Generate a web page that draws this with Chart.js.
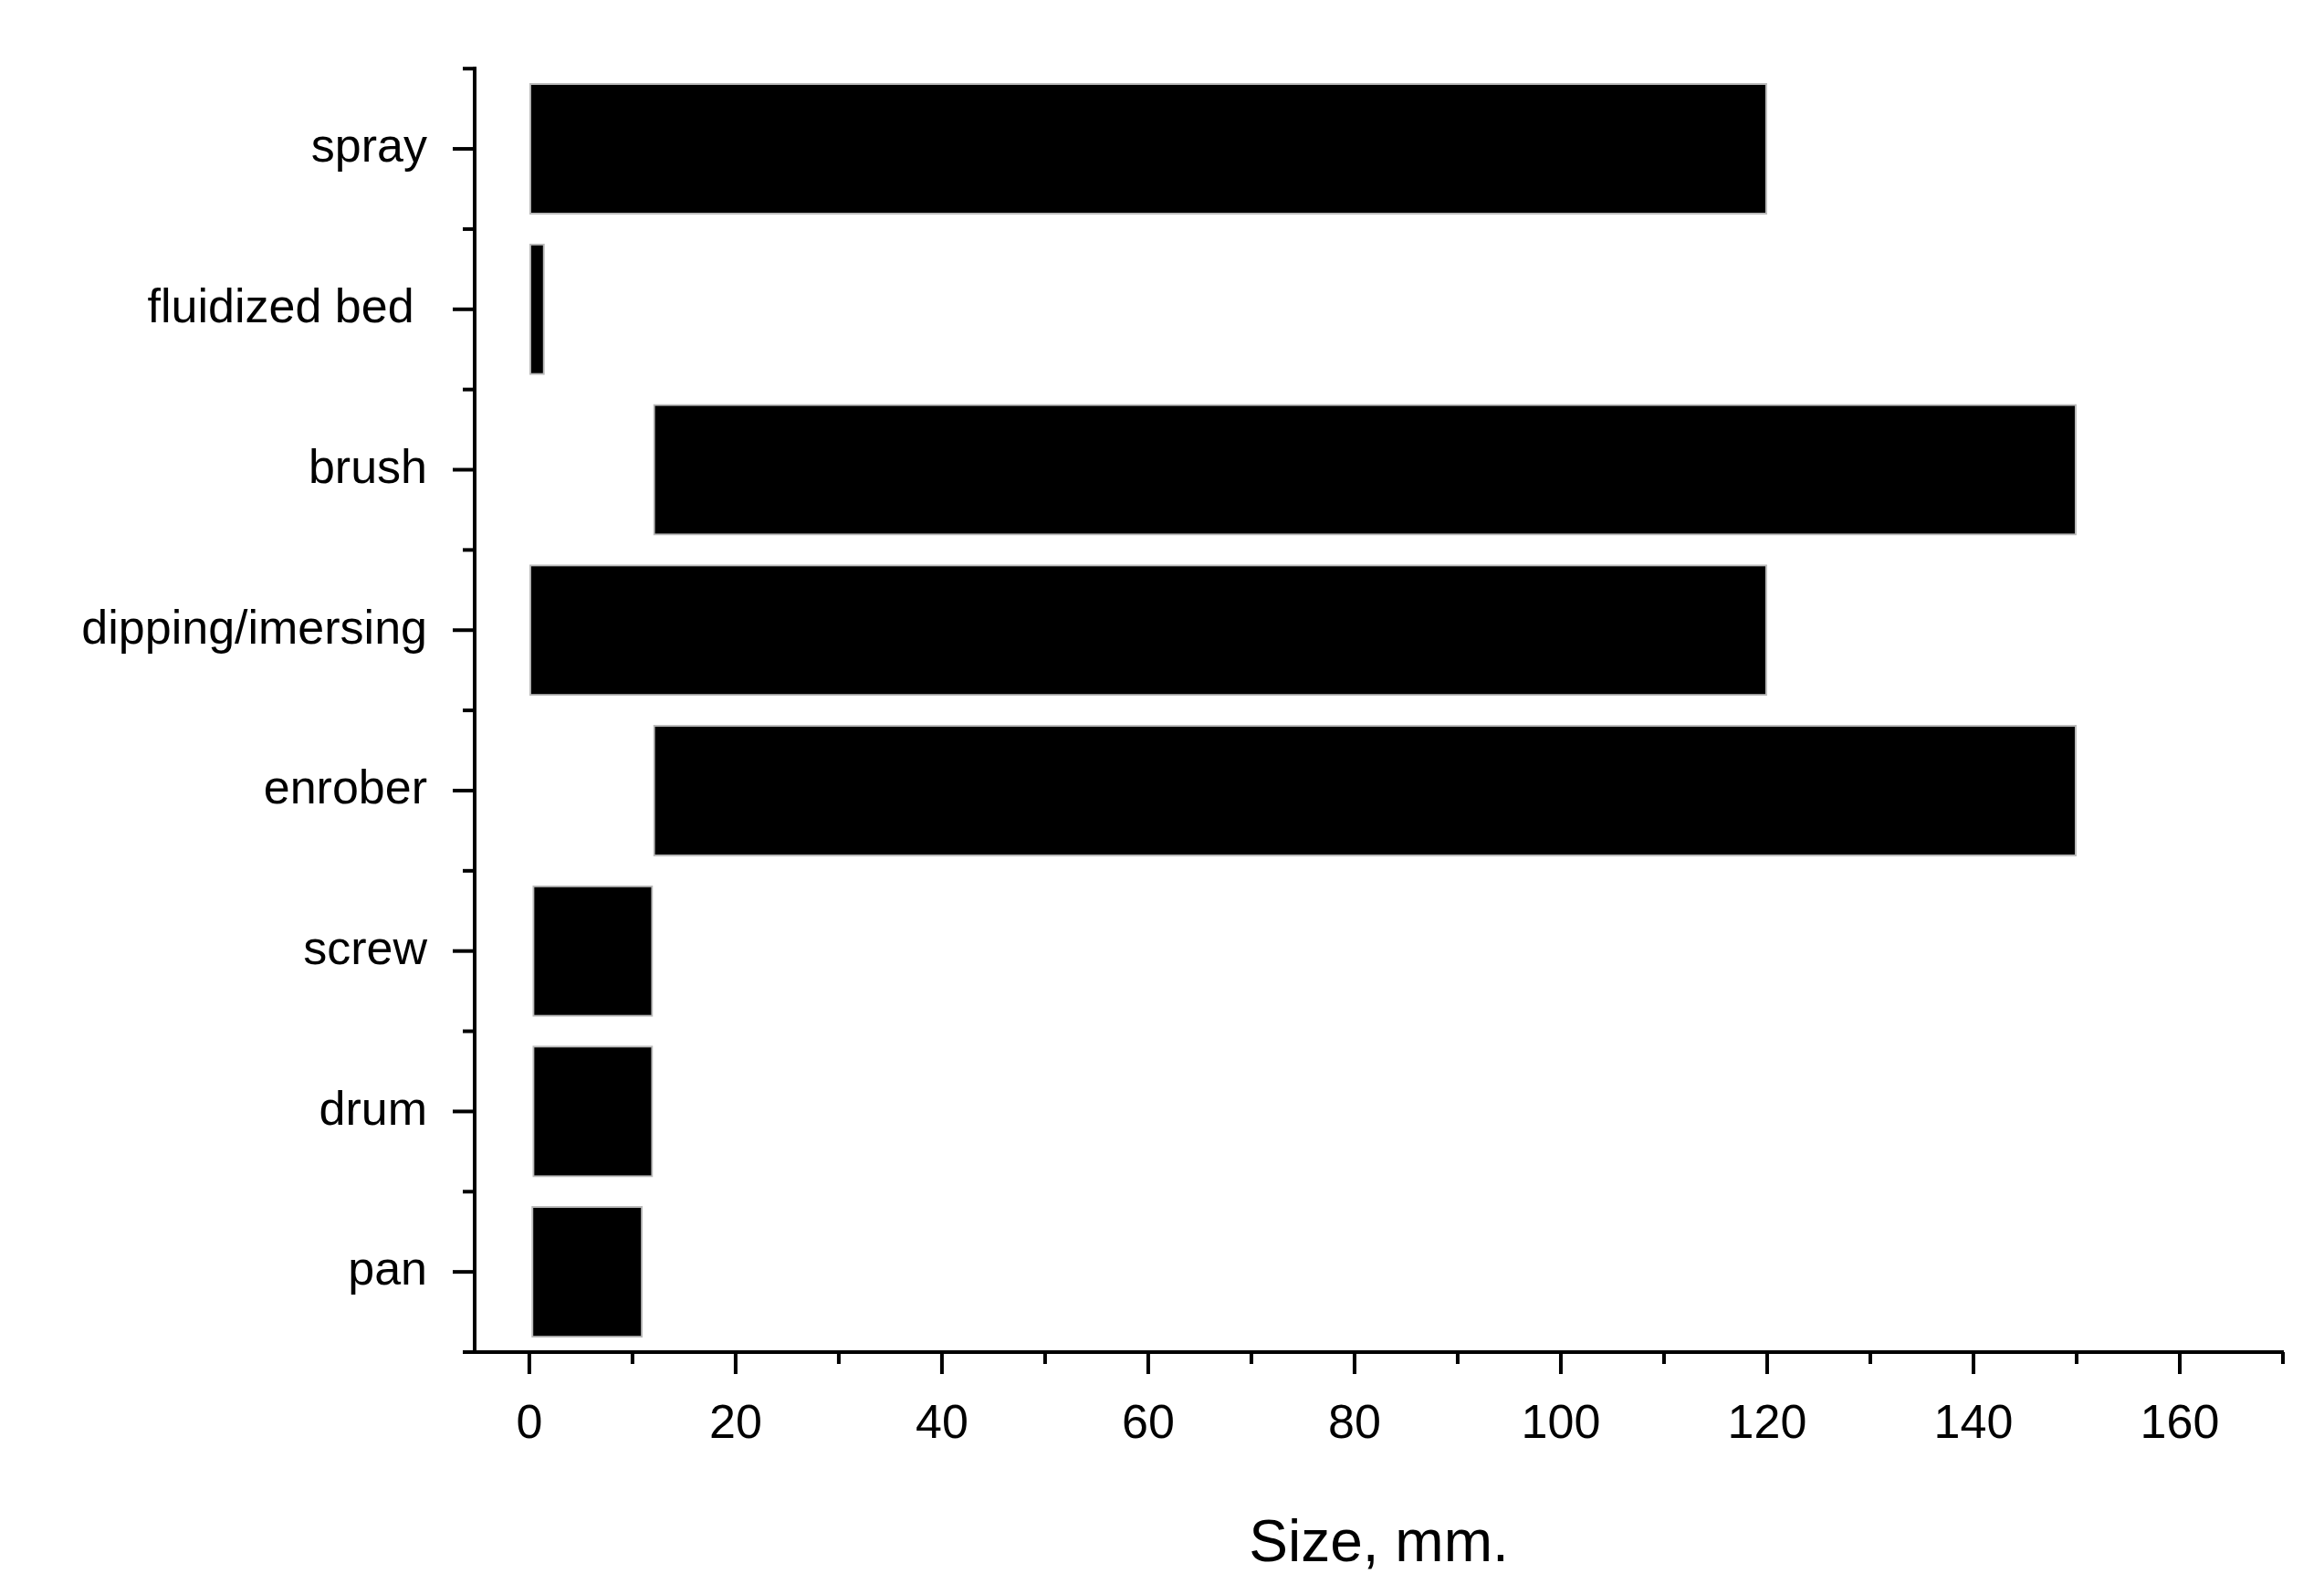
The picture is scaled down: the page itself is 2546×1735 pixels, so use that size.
<!DOCTYPE html>
<html>
<head>
<meta charset="utf-8">
<script src="https://cdn.jsdelivr.net/npm/chart.js@4"></script>
<style>
  body { margin: 0; background: #fff; }
  #wrap { width: 2546px; height: 1735px; }
</style>
</head>
<body>
<div id="wrap"><canvas id="grafica"></canvas></div>
<script>
// Datos
const categorias = ["spray", "fluidized bed ", "brush", "dipping/imersing", "enrober", "screw", "drum", "pan"];
const inicio = [0, 0, 12, 0, 12, 0.3, 0.3, 0.2];
const fin = [120, 1.5, 150, 120, 150, 12, 12, 11];
const ticksX = [0, 20, 40, 60, 80, 100, 120, 140, 160];
const tituloX = "Size, mm.";

const rangos = inicio.map((v, i) => [v, fin[i]]);

// Marcas de eje (mayores y menores) dibujadas con las escalas
const marcas = {
  id: "marcas",
  afterDraw(chart) {
    const { ctx, scales: { x, y }, chartArea } = chart;
    ctx.save();
    ctx.strokeStyle = "#000";
    ctx.lineWidth = 4;
    for (let v = -0; v <= 170; v += 10) {
      const px = x.getPixelForValue(v);
      const len = v % 20 === 0 ? 24 : 13;
      ctx.beginPath();
      ctx.moveTo(px, chartArea.bottom);
      ctx.lineTo(px, chartArea.bottom + len);
      ctx.stroke();
    }
    for (let i = -0.5; i <= categorias.length - 0.5; i += 0.5) {
      const py = y.getPixelForValue(i);
      const len = Number.isInteger(i) ? 24 : 13;
      ctx.beginPath();
      ctx.moveTo(chartArea.left, py);
      ctx.lineTo(chartArea.left - len, py);
      ctx.stroke();
    }
    ctx.restore();
  },
};

new Chart(document.getElementById("grafica"), {
  type: "bar",
  data: {
    labels: categorias,
    datasets: [{
      data: rangos,
      backgroundColor: "#000",
      borderColor: "#bbb",
      borderWidth: 2,
      borderSkipped: false,
      categoryPercentage: 1,
      barPercentage: 0.82,
    }],
  },
  options: {
    indexAxis: "y",
    responsive: true,
    maintainAspectRatio: false,
    animation: false,
    layout: { padding: { top: 57, right: 45, left: 0, bottom: 0 } },
    plugins: { legend: { display: false }, tooltip: { enabled: false } },
    scales: {
      x: {
        min: -5.3,
        max: 170,
        afterBuildTicks: (s) => { s.ticks = ticksX.map((v) => ({ value: v })); },
        afterFit: (s) => { s.height = 254; },
        grid: { display: false },
        border: { display: true, color: "#000", width: 4 },
        ticks: { color: "#000", padding: 40, font: { family: "Liberation Sans", size: 52 } },
        title: { display: true, text: tituloX, color: "#000", padding: { top: 30 }, font: { family: "Liberation Sans", size: 64 } },
      },
      y: {
        afterFit: (s) => { s.width = 520; },
        grid: { display: false },
        border: { display: true, color: "#000", width: 4 },
        ticks: { color: "#000", padding: 44, font: { family: "Liberation Sans", size: 52 } },
      },
    },
  },
  plugins: [marcas],
});
</script>
</body>
</html>
